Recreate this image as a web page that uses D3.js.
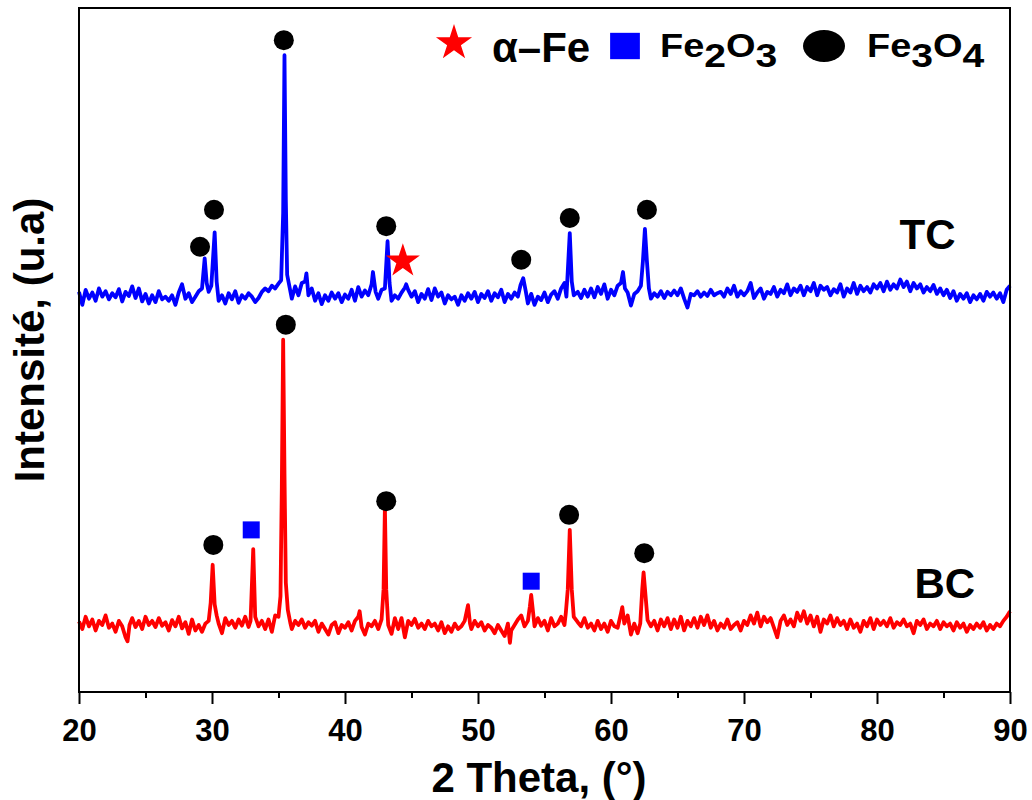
<!DOCTYPE html>
<html>
<head>
<meta charset="utf-8">
<script src="https://cdn.jsdelivr.net/npm/d3@7"></script>
<style>
  body { margin: 0; background: #fff; }
  text { font-family: "Liberation Sans", Arial, sans-serif; font-weight: bold; fill: #000; }
</style>
</head>
<body>
<svg id="chart" width="1032" height="800"></svg>
<script>
// 2 theta (deg) and intensity (a.u., TC trace shifted up)
var tcData = [
  [20.00,585],[20.25,566],[20.50,588],[20.75,575],[21.00,584],[21.25,572],[21.50,590],[21.75,578],
  [22.00,586],[22.25,574],[22.50,583],[22.75,577],[23.00,589],[23.25,571],[23.50,585],[23.75,579],
  [24.00,593],[24.25,576],[24.50,590],[24.75,571],[25.00,582],[25.25,568],[25.50,580],[25.75,570],
  [26.00,586],[26.25,574],[26.50,578],[26.75,572],[27.00,580],[27.25,566],[27.50,584],[27.75,596],
  [28.00,575],[28.25,583],[28.50,570],[28.75,578],[29.00,586],[29.25,590],[29.45,634],[29.60,598],
  [29.75,585],[29.95,594],[30.20,672],[30.35,600],[30.50,572],[30.75,580],[31.00,568],[31.25,583],
  [31.50,574],[31.75,586],[32.00,569],[32.25,580],[32.50,575],[32.75,583],[33.00,578],[33.25,570],
  [33.50,576],[33.75,585],[34.00,590],[34.25,586],[34.50,594],[34.75,590],[35.00,597],[35.20,602],
  [35.35,700],[35.45,931],[35.55,720],[35.65,610],[35.85,590],[36.00,575],[36.25,593],[36.50,580],
  [36.75,598],[37.00,600],[37.10,612],[37.25,580],[37.50,590],[37.75,572],[38.00,583],[38.25,567],
  [38.50,580],[38.75,572],[39.00,584],[39.25,575],[39.50,583],[39.75,570],[40.00,581],[40.25,575],
  [40.50,588],[40.75,572],[41.00,592],[41.25,578],[41.50,587],[41.75,580],[42.00,596],[42.10,614],
  [42.30,585],[42.50,575],[42.75,588],[43.00,590],[43.20,659],[43.35,598],[43.50,572],[43.75,580],
  [44.00,575],[44.25,584],[44.50,591],[44.60,596],[44.75,588],[45.00,578],[45.25,586],[45.50,570],
  [45.75,582],[46.00,575],[46.25,589],[46.50,573],[46.75,590],[47.00,578],[47.25,584],[47.50,568],
  [47.75,580],[48.00,574],[48.25,578],[48.50,566],[48.75,580],[49.00,572],[49.25,583],[49.50,575],
  [49.75,585],[50.00,570],[50.25,582],[50.50,576],[50.75,586],[51.00,572],[51.25,583],[51.50,577],
  [51.75,588],[52.00,570],[52.25,582],[52.50,575],[52.75,584],[53.00,578],[53.20,595],[53.40,605],
  [53.60,585],[53.75,568],[54.00,582],[54.25,566],[54.50,578],[54.75,573],[55.00,584],[55.25,570],
  [55.50,581],[55.75,586],[56.00,575],[56.25,590],[56.50,598],[56.65,578],[56.90,671],[57.05,600],
  [57.20,580],[57.50,585],[57.75,576],[58.00,588],[58.25,578],[58.50,590],[58.75,577],[59.00,592],
  [59.25,582],[59.50,596],[59.75,575],[60.00,588],[60.25,580],[60.50,594],[60.75,598],[60.90,614],
  [61.05,590],[61.25,584],[61.50,565],[61.75,582],[62.00,586],[62.25,594],[62.40,630],[62.55,677],
  [62.70,630],[62.85,590],[63.00,575],[63.25,583],[63.50,578],[63.75,586],[64.00,576],[64.25,585],
  [64.50,580],[64.75,587],[65.00,580],[65.25,590],[65.50,575],[65.75,562],[66.00,582],[66.25,580],
  [66.50,586],[66.75,578],[67.00,584],[67.25,579],[67.50,588],[67.75,580],[68.00,583],[68.25,585],
  [68.50,578],[68.75,590],[69.00,582],[69.25,594],[69.50,578],[69.75,586],[70.00,580],[70.25,586],
  [70.50,598],[70.75,576],[71.00,584],[71.25,590],[71.50,575],[71.75,585],[72.00,582],[72.25,592],
  [72.50,578],[72.75,588],[73.00,583],[73.25,596],[73.50,580],[73.75,590],[74.00,585],[74.25,594],
  [74.50,580],[74.75,592],[75.00,586],[75.25,598],[75.50,580],[75.75,594],[76.00,588],[76.25,592],
  [76.50,580],[76.75,589],[77.00,584],[77.25,596],[77.50,578],[77.75,590],[78.00,584],[78.25,598],
  [78.50,582],[78.75,594],[79.00,586],[79.25,592],[79.50,584],[79.75,596],[80.00,590],[80.25,598],
  [80.50,586],[80.75,600],[81.00,588],[81.25,596],[81.50,590],[81.75,603],[82.00,592],[82.25,600],
  [82.50,586],[82.75,598],[83.00,590],[83.25,596],[83.50,584],[83.75,592],[84.00,586],[84.25,595],
  [84.50,582],[84.75,590],[85.00,580],[85.25,588],[85.50,576],[85.75,586],[86.00,572],[86.25,582],
  [86.50,575],[86.75,583],[87.00,570],[87.25,580],[87.50,574],[87.75,582],[88.00,572],[88.25,585],
  [88.50,578],[88.75,584],[89.00,575],[89.25,583],[89.50,570],[89.75,588],[90.00,594]
];

var bcData = [
  [20.00,103],[20.25,92],[20.50,110],[20.75,96],[21.00,106],[21.25,90],[21.50,104],[21.75,98],
  [22.00,112],[22.25,94],[22.50,100],[22.75,88],[23.00,104],[23.25,96],[23.50,80],[23.65,74],
  [23.80,98],[24.00,108],[24.25,95],[24.50,104],[24.75,92],[25.00,110],[25.25,98],[25.50,104],
  [25.75,95],[26.00,108],[26.25,97],[26.50,102],[26.75,90],[27.00,105],[27.25,96],[27.50,110],
  [27.75,93],[28.00,102],[28.25,85],[28.50,106],[28.75,90],[29.00,98],[29.25,88],[29.50,100],
  [29.75,104],[29.90,130],[30.05,186],[30.20,128],[30.35,112],[30.50,100],[30.75,86],[31.00,108],
  [31.25,98],[31.50,104],[31.75,94],[32.00,106],[32.25,97],[32.50,110],[32.75,95],[32.90,104],
  [33.10,209],[33.25,110],[33.50,96],[33.75,104],[34.00,92],[34.25,106],[34.50,88],[34.75,112],
  [35.00,110],[35.15,140],[35.25,300],[35.35,515],[35.45,320],[35.55,160],[35.70,120],[35.90,100],
  [36.00,92],[36.25,104],[36.50,98],[36.75,106],[37.00,94],[37.25,102],[37.50,97],[37.75,104],
  [38.00,88],[38.25,100],[38.50,92],[38.75,84],[39.00,98],[39.25,102],[39.50,86],[39.75,98],
  [40.00,94],[40.25,102],[40.50,90],[40.75,104],[41.00,110],[41.10,118],[41.25,95],[41.50,84],
  [41.75,100],[42.00,96],[42.25,104],[42.50,92],[42.75,106],[42.90,150],[43.00,270],[43.10,150],
  [43.25,98],[43.50,85],[43.75,108],[44.00,92],[44.25,108],[44.50,80],[44.75,104],[45.00,98],
  [45.25,107],[45.50,94],[45.75,100],[46.00,92],[46.25,104],[46.50,96],[46.75,100],[47.00,90],
  [47.25,102],[47.50,86],[47.75,96],[48.00,88],[48.25,100],[48.50,92],[48.75,96],[49.00,104],
  [49.25,127],[49.40,100],[49.50,92],[49.75,104],[50.00,96],[50.25,102],[50.50,90],[50.75,98],
  [51.00,94],[51.25,86],[51.50,98],[51.75,90],[52.00,82],[52.25,100],[52.40,72],[52.50,90],
  [52.75,98],[53.00,106],[53.25,112],[53.50,96],[53.75,104],[53.90,125],[54.00,142],[54.15,115],
  [54.25,96],[54.50,108],[54.75,97],[55.00,104],[55.25,90],[55.50,108],[55.75,96],[56.00,100],
  [56.25,110],[56.50,98],[56.60,115],[56.75,150],[56.90,237],[57.05,150],[57.20,110],[57.50,102],
  [57.75,96],[58.00,108],[58.25,94],[58.50,100],[58.75,90],[59.00,104],[59.25,92],[59.50,100],
  [59.75,88],[60.00,104],[60.25,96],[60.50,94],[60.75,115],[60.85,124],[61.00,100],[61.25,112],
  [61.50,84],[61.75,100],[62.00,86],[62.20,100],[62.35,150],[62.45,175],[62.60,140],[62.75,105],
  [63.00,96],[63.25,104],[63.50,90],[63.75,106],[64.00,96],[64.25,108],[64.50,92],[64.75,106],
  [65.00,94],[65.25,110],[65.50,90],[65.75,104],[66.00,96],[66.25,108],[66.50,94],[66.75,110],
  [67.00,98],[67.25,112],[67.50,94],[67.75,104],[68.00,90],[68.25,100],[68.50,94],[68.75,106],
  [69.00,92],[69.25,98],[69.50,102],[69.75,90],[70.00,104],[70.25,98],[70.50,112],[70.75,100],
  [71.00,116],[71.25,96],[71.50,110],[71.75,102],[72.00,108],[72.25,94],[72.50,80],[72.75,104],
  [73.00,112],[73.25,98],[73.50,106],[73.75,96],[74.00,116],[74.25,104],[74.50,118],[74.75,100],
  [75.00,112],[75.25,96],[75.50,110],[75.75,88],[76.00,106],[76.25,100],[76.50,112],[76.75,96],
  [77.00,108],[77.25,98],[77.50,104],[77.75,92],[78.00,106],[78.25,94],[78.50,100],[78.75,88],
  [79.00,104],[79.25,96],[79.50,108],[79.75,92],[80.00,106],[80.25,98],[80.50,104],[80.75,96],
  [81.00,108],[81.25,94],[81.50,102],[81.75,98],[82.00,106],[82.25,96],[82.50,100],[82.75,86],
  [83.00,104],[83.25,98],[83.50,106],[83.75,92],[84.00,100],[84.25,96],[84.50,104],[84.75,92],
  [85.00,102],[85.25,96],[85.50,100],[85.75,90],[86.00,102],[86.25,94],[86.50,100],[86.75,88],
  [87.00,98],[87.25,92],[87.50,100],[87.75,94],[88.00,102],[88.25,90],[88.50,98],[88.75,92],
  [89.00,100],[89.25,96],[89.50,104],[89.75,110],[90.00,118]
];

// peak markers: [2theta, intensity, phase]
var tcMarkers = [
  [29.1,651,"Fe3O4"],[30.15,705,"Fe3O4"],[35.4,953,"Fe3O4"],[43.1,681,"Fe3O4"],
  [44.35,630,"aFe"],[53.25,632,"Fe3O4"],[56.9,693,"Fe3O4"],[62.7,705,"Fe3O4"]
];
var bcMarkers = [
  [30.1,215,"Fe3O4"],[32.95,237,"Fe2O3"],[35.55,537,"Fe3O4"],[43.1,279,"Fe3O4"],
  [54.0,162,"Fe2O3"],[56.85,259,"Fe3O4"],[62.5,203,"Fe3O4"]
];

var xTicks = [20, 30, 40, 50, 60, 70, 80, 90];
var xMinorTicks = [25, 35, 45, 55, 65, 75, 85];

var svg = d3.select("#chart");
var margin = {top: 8, right: 22, bottom: 108, left: 79},
    width = +svg.attr("width") - margin.left - margin.right,
    height = +svg.attr("height") - margin.top - margin.bottom;

var x = d3.scaleLinear().domain([20, 90]).range([0, width]);
var y = d3.scaleLinear().domain([0, 1000]).range([height, 0]);

var g = svg.append("g")
    .attr("transform", "translate(" + margin.left + "," + margin.top + ")");

var line = d3.line()
    .x(function(d) { return x(d[0]); })
    .y(function(d) { return y(d[1]); });

g.append("path").datum(bcData)
    .attr("fill", "none").attr("stroke", "#ff0000")
    .attr("stroke-width", 3.8).attr("stroke-linejoin", "round")
    .attr("d", line);

g.append("path").datum(tcData)
    .attr("fill", "none").attr("stroke", "#0000ff")
    .attr("stroke-width", 3.8).attr("stroke-linejoin", "round")
    .attr("d", line);

function drawMarker(sel, kind, sx, sy) {
    if (kind === "Fe3O4") {
        sel.append("ellipse").attr("rx", 10 * sx).attr("ry", 10 * sy).attr("fill", "#000");
    } else if (kind === "Fe2O3") {
        sel.append("rect").attr("x", -8.5 * sx).attr("y", -8.5 * sy)
            .attr("width", 17 * sx).attr("height", 17 * sy).attr("fill", "#0000ff");
    } else {
        sel.append("path")
            .attr("d", d3.symbol().type(d3.symbolStar).size(360 * sx * sy)())
            .attr("fill", "#ff0000");
    }
}

tcMarkers.concat(bcMarkers).forEach(function(m) {
    var mg = g.append("g")
        .attr("transform", "translate(" + x(m[0]) + "," + y(m[1]) + ")");
    drawMarker(mg, m[2], 1, 1);
});

// sample labels
g.append("text").attr("x", x(83.8)).attr("y", y(648))
    .attr("text-anchor", "middle").style("font-size", "42px").text("TC");
g.append("text").attr("x", x(85.1)).attr("y", y(137))
    .attr("text-anchor", "middle").style("font-size", "42px").text("BC");

// frame
g.append("rect").attr("width", width).attr("height", height)
    .attr("fill", "none").attr("stroke", "#000").attr("stroke-width", 2);

var xAxis = g.append("g")
    .attr("transform", "translate(0," + height + ")")
    .call(d3.axisBottom(x).tickValues(xTicks).tickSize(12).tickPadding(15).tickFormat(d3.format("d")));
xAxis.select(".domain").remove();
xAxis.selectAll("line").attr("stroke-width", 2);
xAxis.selectAll("text").style("font-size", "31px")
    .style("font-family", "'Liberation Sans', Arial, sans-serif").style("font-weight", "bold");

g.append("g")
    .attr("transform", "translate(0," + height + ")")
    .call(d3.axisBottom(x).tickValues(xMinorTicks).tickSize(6).tickFormat(""))
    .call(function(a) { a.select(".domain").remove(); a.selectAll("line").attr("stroke-width", 2); });

// axis titles
svg.append("text").attr("x", 539).attr("y", 792)
    .attr("text-anchor", "middle").style("font-size", "42px").text("2 Theta, (°)");
svg.append("text")
    .attr("transform", "translate(44,340) rotate(-90)")
    .attr("text-anchor", "middle").style("font-size", "42px").text("Intensité, (u.a)");

// legend
var legend = svg.append("g");

var star = legend.append("g").attr("transform", "translate(454,43)");
drawMarker(star, "aFe", 1.06, 1.06);
legend.append("text").attr("x", 492).attr("y", 62).style("font-size", "42px").text("α–Fe");

var sq = legend.append("g").attr("transform", "translate(625,46)");
drawMarker(sq, "Fe2O3", 1.75, 1.55);

var dot = legend.append("g").attr("transform", "translate(824,46)");
drawMarker(dot, "Fe3O4", 2.1, 1.6);

function formula(x0, parts) {
    var t = legend.append("text")
        .attr("transform", "translate(" + x0 + ",0) scale(1.15,1)")
        .attr("y", 57).style("font-size", "33px");
    var prev = 0;
    parts.forEach(function(p) {
        var sub = /\d/.test(p);
        t.append("tspan").text(p)
            .attr("dy", sub === !!prev ? 0 : (sub ? 10 : -10))
            .style("font-size", sub ? "34px" : "33px");
        prev = sub;
    });
}
formula(660, ["Fe", "2", "O", "3"]);
formula(867, ["Fe", "3", "O", "4"]);
</script>
</body>
</html>
